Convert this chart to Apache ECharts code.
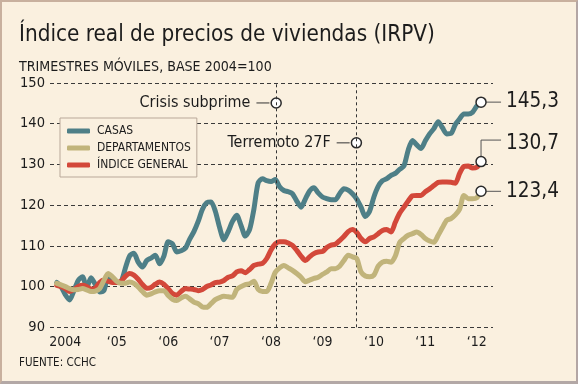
<!DOCTYPE html>
<html><head><meta charset="utf-8">
<script src="https://cdn.jsdelivr.net/npm/echarts@6/dist/echarts.min.js"></script>
<style>
html,body{margin:0;padding:0;background:#faf0df;}
#wrap{position:relative;width:578px;height:384px;overflow:hidden;}
#chart{width:578px;height:384px;}
#frame{position:absolute;left:0;top:0;width:578px;height:384px;box-sizing:border-box;border-left:2px solid #c8b09e;border-top:2px solid #c8b09e;border-right:2px solid #b3a6a4;border-bottom:3px solid #b3a8a6;pointer-events:none;}
</style></head><body>
<div id="wrap"><div id="chart"></div><div id="frame"></div></div>
<script>
// months counted from January 2004; first plotted moving quarter
const startMonth = 4;
const casas = [
 101, 100, 98, 96.7, 99, 101.5, 102.4, 99.8, 102.2, 100.5,
 98.7, 99, 102.6, 101.8, 101, 101.2, 104.5, 107.5, 108.2, 106,
 104.8, 106.4, 107, 107.7, 105.6, 107.5, 111, 110.5, 108.5, 108.8,
 109.4, 111.6, 113.5, 116, 119, 120.6, 120.8, 118.5, 114.5, 111.5,
 113.5, 116, 117.5, 115, 112.4, 114, 119, 125.5, 126.5, 126,
 125.8, 126.3, 124.5, 123.6, 123.3, 122.8, 121, 119.5, 121.5, 123.5,
 124.3, 123, 122, 121.6, 121.3, 121.3, 122.8, 124, 123.7, 122.8,
 121.5, 119.5, 117.2, 118.5, 122, 124.6, 126, 126.5, 127.3, 127.8,
 128.8, 129.6, 133.5, 135.9, 134.8, 133.9, 135.8, 137.5, 138.8, 140.5,
 139, 137.5, 137.6, 139.8, 141.2, 142.4, 142.4, 142.8, 144.3, 145.3
];
const general = [
 100.3, 100, 99.5, 98.8, 99.3, 100, 100.3, 100, 99.4, 99.6,
 101, 101.6, 101.3, 101, 101, 101.3, 102.5, 103.2, 102.8, 101.8,
 100.5, 99.6, 99.8, 100.6, 101.1, 100.6, 99.5, 98.3, 97.9, 98.8,
 99.5, 99.4, 99.3, 99, 99.3, 100, 100.4, 101, 101.1, 101.5,
 102.3, 102.6, 103.6, 103.9, 103.4, 104.2, 105.2, 105.5, 105.7, 106.9,
 109, 110.5, 111, 111, 110.7, 110.1, 108.9, 107.5, 106.4, 107.3,
 108.1, 108.5, 108.6, 109.6, 110.2, 110.4, 111.3, 112.3, 113.5, 114,
 113.3, 111.8, 111, 111.8, 112.2, 113, 113.8, 114, 113.4, 115.8,
 118, 119.5, 121, 122.3, 122.4, 122.4, 123.3, 124, 124.8, 125.6,
 125.7, 125.7, 125.6, 125.4, 127.8, 129.5, 129.6, 129.1, 129.3, 130.7
];
const departamentos = [
 100.8, 100.4, 100, 99.5, 99.2, 99.3, 99.5, 99.2, 98.8, 98.9,
 99.5, 101.5, 103.2, 102.4, 101.3, 100.8, 100.8, 101.1, 100.8, 99.9,
 98.8, 97.9, 98.2, 98.7, 99, 99, 97.8, 96.9, 96.6, 97.2,
 97.6, 97, 96.2, 95.8, 95, 94.9, 95.8, 96.8, 97.3, 97.6,
 97.5, 97.4, 99.3, 100, 100.5, 100.7, 101.3, 99.3, 98.8, 98.8,
 100.8, 103.5, 104.6, 105.2, 104.6, 104, 103.2, 102.3, 101.2, 101.6,
 102, 102.3, 103, 103.6, 104.4, 104.4, 105, 106.4, 107.7, 107.3,
 106.9, 103.6, 102.6, 102.4, 102.8, 105, 106, 106.2, 106, 107.5,
 110.8, 111.8, 112.6, 113, 113.4, 112.8, 111.8, 111.2, 110.9, 112.6,
 114.5, 116.3, 116.7, 117.6, 119, 122.4, 121.6, 121.6, 121.8, 123.4
];
const seriesNames = ['CASAS', 'DEPARTAMENTOS', 'ÍNDICE GENERAL'];
const yearLabels = ['2004', '‘05', '‘06', '‘07', '‘08', '‘09', '‘10', '‘11', '‘12'];
const yTicks = [90, 100, 110, 120, 130, 140, 150];
const eventNames = ['Crisis subprime', 'Terremoto 27F'];
const eventYears = [2008.6, 2010.16];
const eventLevels = [145.1, 135.3];
const titleText = 'Índice real de precios de viviendas (IRPV)';
const subtitleText = 'TRIMESTRES MÓVILES, BASE 2004=100';
const sourceText = 'FUENTE: CCHC';

// ---- font choice: prefer a narrow face like the original ----
const ctx = document.createElement('canvas').getContext('2d');
function measure(font, text) { ctx.font = font; return ctx.measureText(text).width; }
function installed(name) {
  const s = 'mmmmmmmmmmlli1WQ0@ABCxyz';
  return ['monospace', 'serif'].every(b => measure('40px "' + name + '", ' + b, s) !== measure('40px ' + b, s));
}
const candidates = ['Liberation Sans Narrow', 'DejaVu Sans Condensed', 'Roboto Condensed', 'Open Sans Condensed', 'Noto Sans', 'Liberation Sans'];
const FACE = candidates.find(installed) || 'sans-serif';
const FONT = '"' + FACE + '", sans-serif';
// size so that the text width matches the original, capped by the original glyph height
const fit = (text, w, max) => Math.min(max, 20 * w / measure('20px ' + FONT, text));

const fsTitle = fit(titleText, 416, 25.5);
const fsSub = fit(subtitleText, 253, 18.5);
const fsLegend = fit('DEPARTAMENTOS', 94, 13.5);
const fsY = fit('140', 25, 17.5);
const fsX = fit('2004', 32, 17.5);
const fsEvent = Math.min(fit(eventNames[0], 111, 20.5), fit(eventNames[1], 126, 20.5));
const fsEnd = fit('145,3', 53, 26);
const fsSrc = fit(sourceText, 77, 14);

const TXT = '#1c1c1c';
const COLORS = {casas: '#4e7f87', dept: '#c1b47b', gen: '#d3483a'};

const xOf = i => 2004 + (startMonth + i) / 12;
const toPairs = arr => arr.map((v, i) => [xOf(i), v]);
const yearCenters = yearLabels.map((_, i) => 2004.5 + i);

const chart = echarts.init(document.getElementById('chart'), null, {renderer: 'canvas'});

const lineSeries = (name, arr, color, z) => ({
  name, type: 'line', data: toPairs(arr), showSymbol: false, symbol: 'none',
  smooth: 0.25, z,
  lineStyle: {width: 5, color, cap: 'round', join: 'round'},
  itemStyle: {color},
  emphasis: {disabled: true}
});

const option = {
  animation: false,
  backgroundColor: '#faf0df',
  textStyle: {fontFamily: FONT},
  title: [
    {text: titleText, left: 19, top: 35 - fsTitle / 2, padding: 0,
     textStyle: {fontFamily: FONT, fontSize: fsTitle, fontWeight: 'normal', color: TXT}},
    {text: subtitleText, left: 19, top: 67 - fsSub / 2, padding: 0,
     textStyle: {fontFamily: FONT, fontSize: fsSub, fontWeight: 'normal', color: TXT}},
    {text: sourceText, left: 19, top: 363 - fsSrc / 2, padding: 0,
     textStyle: {fontFamily: FONT, fontSize: fsSrc, fontWeight: 'normal', color: TXT}}
  ],
  grid: {left: 50, right: 85, top: 83, bottom: 56.7, containLabel: false},
  legend: {
    data: seriesNames, orient: 'vertical', left: 60, top: 118,
    icon: 'roundRect', itemWidth: 23, itemHeight: 5, itemGap: 3,
    padding: [6, 6, 5, 7], borderColor: '#b9a899', borderWidth: 1,
    backgroundColor: '#faf0df',
    selectedMode: false,
    textStyle: {fontFamily: FONT, fontSize: fsLegend, color: TXT, lineHeight: 14, padding: [0, 0, 0, 2]}
  },
  xAxis: {
    type: 'value', min: 2004.202, max: 2012.816,
    axisLine: {show: false}, axisTick: {show: false}, splitLine: {show: false},
    axisLabel: {
      customValues: yearCenters, margin: 14.7 - fsX / 2, fontSize: fsX, color: TXT, fontFamily: FONT,
      formatter: v => yearLabels[Math.round(v - 2004.5)]
    }
  },
  yAxis: {
    type: 'value', min: yTicks[0], max: yTicks[yTicks.length - 1], interval: 10,
    axisLine: {show: false}, axisTick: {show: false},
    axisLabel: {margin: 5, fontSize: fsY, color: TXT, fontFamily: FONT},
    splitLine: {show: true, lineStyle: {color: '#3a3a3a', type: [4, 3], width: 1}}
  },
  series: [
    lineSeries('CASAS', casas, COLORS.casas, 3),
    lineSeries('ÍNDICE GENERAL', general, COLORS.gen, 4),
    lineSeries('DEPARTAMENTOS', departamentos, COLORS.dept, 5),
    {
      name: 'eventos', type: 'scatter', z: 2,
      data: eventYears.map((y, i) => ({value: [y, eventLevels[i]], name: eventNames[i]})),
      symbol: 'circle', symbolSize: 10,
      itemStyle: {color: '#ffffff', borderColor: '#2a2a2a', borderWidth: 1.5, opacity: 1},
      label: {
        show: true, position: 'left', distance: 1,
        formatter: p => '{t|' + p.name + '}{s|}{l|}',
        rich: {
          t: {fontFamily: FONT, fontSize: fsEvent, color: TXT, verticalAlign: 'middle'},
          s: {width: 6, height: 1},
          l: {width: 13, height: 1, backgroundColor: '#333', verticalAlign: 'middle'}
        }
      },
      emphasis: {disabled: true},
      markLine: {
        silent: true, symbol: ['none', 'none'], label: {show: false},
        lineStyle: {color: '#333', type: [3, 3], width: 1},
        data: eventYears.map(y => ({xAxis: y}))
      }
    }
  ]
};
chart.setOption(option);

// end-point markers with value labels, positioned through the axes' scales
const fmt = v => v.toFixed(1).replace('.', ',');
const ends = [
  {arr: casas, lift: 0},
  {arr: general, lift: 21.5},
  {arr: departamentos, lift: 0}
];
const g = [];
ends.forEach(e => {
  const i = e.arr.length - 1;
  const [cx, cy] = chart.convertToPixel({gridIndex: 0}, [xOf(i), e.arr[i]]);
  const ly = cy - e.lift;
  if (e.lift === 0) {
    g.push({type: 'line', z: 100, shape: {x1: cx + 5, y1: cy, x2: cx + 20, y2: cy},
            style: {stroke: '#555', lineWidth: 1}});
  } else {
    g.push({type: 'polyline', z: 100, shape: {points: [[cx, cy - 5], [cx, ly], [cx + 20, ly]]},
            style: {stroke: '#555', lineWidth: 1, fill: null}});
  }
  g.push({type: 'circle', z: 101, shape: {cx, cy, r: 5},
          style: {fill: '#fff', stroke: '#2a2a2a', lineWidth: 1.5}});
  g.push({type: 'text', z: 101, x: cx + 25, y: e.lift ? ly + 3.5 : cy,
          style: {text: fmt(e.arr[i]), font: fsEnd + 'px ' + FONT, fill: TXT, verticalAlign: 'middle', align: 'left'}});
});
chart.setOption({graphic: g});
</script>
</body></html>
